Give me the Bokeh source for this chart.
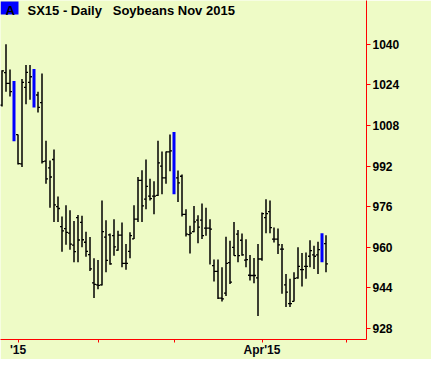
import numpy as np
import pandas as pd
from bokeh.plotting import figure
from bokeh.models import ColumnDataSource, FixedTicker, Range1d, Label, Arrow, BoxAnnotation
from bokeh.embed import file_html
from bokeh.resources import INLINE

# ---- data ----
opens = [1016.0, 1028.8, 1024.6, 1025.0, 1004.4, 992.9, 1023.0, 1025.0, 1029.5, 1020.0,
         1017.0, 994.0, 991.3, 994.6, 976.0, 968.2, 967.4, 965.6, 960.9, 971.7,
         969.8, 962.0, 957.1, 946.0, 945.2, 945.2, 964.0, 964.9, 964.6, 958.9,
         964.8, 953.7, 958.4, 963.3, 971.1, 986.4, 979.0, 980.2, 980.2, 980.5,
         992.0, 987.4, 997.6, 1004.5, 987.4, 988.0, 973.0, 965.0, 966.2, 970.7,
         970.7, 967.6, 967.6, 952.8, 950.5, 940.0, 942.0, 954.0, 960.0, 965.2,
         962.8, 955.0, 949.0, 948.9, 948.0, 955.4, 971.7, 974.1, 963.2, 963.2,
         959.3, 945.2, 937.8, 938.7, 948.0, 951.2, 952.5, 956.5, 957.0, 957.0,
         961.5, 961.5]
highs = [1029.8, 1040.0, 1030.1, 1025.5, 1004.4, 1026.3, 1031.8, 1031.8, 1030.2, 1021.3,
         1028.5, 1002.0, 994.2, 998.5, 980.0, 972.1, 976.6, 974.6, 970.4, 972.7,
         972.4, 966.1, 964.1, 955.7, 955.0, 978.5, 970.7, 965.5, 971.1, 966.5,
         969.8, 961.3, 965.9, 976.6, 987.7, 990.4, 994.6, 987.0, 986.0, 1002.0,
         997.8, 997.8, 1004.4, 1005.4, 990.3, 988.7, 975.0, 968.5, 976.3, 972.6,
         977.3, 975.6, 971.1, 955.2, 955.2, 952.2, 964.2, 962.6, 970.0, 966.8,
         965.5, 963.2, 957.0, 955.8, 961.3, 973.7, 978.9, 978.5, 967.8, 967.4,
         961.3, 949.5, 947.6, 950.2, 960.0, 957.8, 958.0, 962.8, 960.6, 962.2,
         965.6, 964.8]
lows = [1015.5, 1021.3, 1019.4, 1001.8, 992.6, 991.6, 1016.4, 1018.1, 1015.1, 1013.1,
        993.0, 985.0, 975.6, 970.0, 970.0, 958.3, 961.0, 959.1, 954.1, 954.1,
        960.0, 956.3, 950.7, 940.0, 943.5, 945.0, 950.2, 953.1, 956.7, 958.7,
        952.2, 951.2, 955.7, 963.3, 970.0, 970.0, 975.0, 978.5, 973.0, 980.2,
        980.9, 985.0, 990.0, 980.9, 977.9, 972.1, 964.3, 957.6, 965.9, 961.6,
        963.3, 964.6, 953.2, 946.5, 939.7, 938.7, 940.8, 945.6, 956.7, 954.1,
        956.7, 952.2, 946.9, 945.9, 933.0, 954.7, 965.6, 965.6, 961.9, 957.4,
        941.7, 936.5, 936.5, 938.7, 947.6, 944.6, 947.6, 952.2, 951.5, 949.5,
        954.1, 950.2]
closes = [1029.5, 1024.6, 1021.3, 1002.5, 993.0, 1025.0, 1028.9, 1027.2, 1016.0, 1015.1,
          993.8, 987.0, 987.7, 976.7, 975.3, 966.5, 965.9, 961.3, 958.3, 962.9,
          963.0, 958.4, 951.5, 945.4, 945.0, 966.2, 954.9, 953.5, 960.2, 964.8,
          953.7, 953.7, 964.6, 971.1, 986.4, 976.3, 984.0, 979.2, 980.2, 993.3,
          987.4, 997.6, 998.0, 982.0, 985.4, 973.0, 965.2, 965.6, 970.0, 968.0,
          964.6, 967.6, 967.2, 950.5, 940.0, 939.7, 953.7, 946.3, 956.7, 956.7,
          957.0, 955.2, 948.9, 948.9, 955.4, 973.3, 973.3, 967.8, 963.2, 961.0,
          959.3, 942.4, 937.8, 947.8, 952.5, 951.2, 952.5, 958.7, 956.5, 959.1,
          955.0, 953.5]
blue_bars = [3, 8, 43, 80]
month_ticks = [4, 24, 43, 65, 86]
month_labels = ["'15", "", "", "Apr'15", ""]
price_ticks = [928, 944, 960, 976, 992, 1008, 1024, 1040]
last_price = 953.5
last_price_label = "953 4/8"
title_text = "SX15 - Daily\u00a0\u00a0 Soybeans Nov 2015"

BG = "#eefbc6"
FONT = "Liberation Sans"

df = pd.DataFrame(dict(x=np.arange(len(opens)), o=opens, h=highs, l=lows, c=closes))
df["blue"] = df["x"].isin(blue_bars)
df["xl"] = df["x"] - 0.5
df["xr"] = df["x"] + 0.5
black_src = ColumnDataSource(df[~df["blue"]])
blue_src = ColumnDataSource(df[df["blue"]])

# 4 px per bar, frame 366 px wide; 1040 at y=44 px, 16 points = 40.86 px
PPU = 40.86 / 16.0
X0 = -0.375
X1 = X0 + 366 / 4.0
Y1 = 1040 + 44 / PPU
Y0 = 1040 - (341 - 44) / PPU

p = figure(width=431, height=359, output_backend="svg", toolbar_location=None,
           x_range=Range1d(X0, X1), y_range=Range1d(Y0, Y1),
           y_axis_location="right",
           min_border_left=0, min_border_top=0, min_border_right=65, min_border_bottom=18,
           background_fill_color=BG, border_fill_color=BG, outline_line_color=None)
p.grid.visible = False

# OHLC bars
p.segment(x0="x", y0="l", x1="x", y1="h", source=black_src, line_color="black", line_width=1.5)
p.segment(x0="xl", y0="o", x1="x", y1="o", source=black_src, line_color="black", line_width=1.3)
p.segment(x0="x", y0="c", x1="xr", y1="c", source=black_src, line_color="black", line_width=1.3)
p.vbar(x="x", width=0.75, top="h", bottom="l", source=blue_src, fill_color="#0000ff", line_color=None)

# axes
xa = p.xaxis[0]
xa.ticker = FixedTicker(ticks=month_ticks)
xa.major_label_overrides = {t: lab for t, lab in zip(month_ticks, month_labels)}
xa.axis_line_color = "red"
xa.major_tick_line_color = "red"
xa.minor_tick_line_color = None
xa.major_tick_in = 0
xa.major_tick_out = 3
xa.major_label_standoff = 0
xa.major_label_text_font = FONT
xa.major_label_text_font_style = "bold"
xa.major_label_text_font_size = "12px"
xa.major_label_text_color = "#050510"

ya = p.yaxis[0]
ya.ticker = FixedTicker(ticks=price_ticks)
ya.axis_line_color = "red"
ya.major_tick_line_color = "red"
ya.minor_tick_line_color = None
ya.major_tick_in = 0
ya.major_tick_out = 4
ya.major_label_standoff = 2
ya.major_label_text_font = FONT
ya.major_label_text_font_style = "bold"
ya.major_label_text_font_size = "12px"
ya.major_label_text_color = "black"

# bottom red line continuing under the price scale
p.add_layout(Arrow(start=None, end=None, x_start=X1, y_start=Y0, x_end=X1 + 30, y_end=Y0,
                   line_color="red", line_width=1))

# last price marker
p.add_layout(Label(x=X1, y=last_price, text=last_price_label, x_offset=2,
                   text_baseline="middle", text_font=FONT, text_font_style="bold",
                   text_font_size="12px", text_color="#f4f4d2",
                   background_fill_color="#161616",
                   padding=dict(left=3, right=30, top=2, bottom=2)))

# title: blue "A" box and chart name
p.add_layout(BoxAnnotation(left=X0, right=X0 + 18 / 4.0, top=Y1 - 1 / PPU, bottom=Y1 - 14 / PPU,
                           fill_color="#0000ff", fill_alpha=1, line_color=None))
p.add_layout(Label(x=X0, y=Y1, x_offset=5, y_offset=-2, text="A", text_baseline="top",
                   text_font=FONT, text_font_style="bold", text_font_size="13px",
                   text_color="black"))
p.add_layout(Label(x=X0, y=Y1, x_offset=27, y_offset=-2, text=title_text, text_baseline="top",
                   text_font=FONT, text_font_style="bold", text_font_size="13px",
                   text_color="black"))

open("out.html", "w").write(file_html(p, INLINE))
